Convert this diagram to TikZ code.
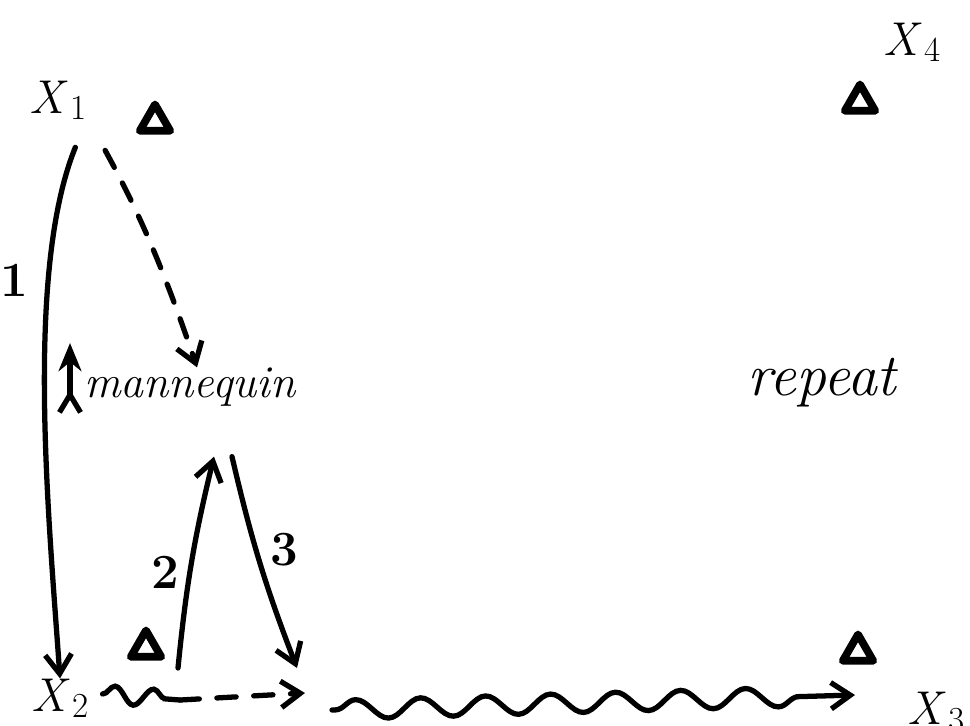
\documentclass[tikz,border=0pt]{standalone}
\usepackage{amssymb, amsmath}
\usetikzlibrary{arrows.meta, calc, shapes.geometric, decorations.pathmorphing}

\newcommand{\xsub}[1]{\textit{X}\kern1pt\raisebox{-0.3ex}{\fontsize{20}{22}\selectfont #1}}

\tikzset{
  hand/.style={line width=3pt, line cap=round},
  tip/.style={-{Straight Barb[length=11pt, width=15pt]}},
  dashy/.style={dash pattern=on 11pt off 10pt},
  lab/.style={inner sep=0pt, font=\fontsize{27}{30}\selectfont},
  word/.style={inner sep=0pt, font=\fontsize{26}{30}\selectfont\itshape},
  big/.style={font=\fontsize{34}{38}\selectfont\itshape},
  num/.style={inner sep=0pt, font=\fontsize{28}{30}\selectfont\bfseries},
  delta/.style={regular polygon, regular polygon sides=3, draw, line width=4.4pt,
    line join=round, inner sep=0pt, minimum size=20pt},
  wave/.style={decorate, decoration={snake, amplitude=5.5pt, segment length=37pt,
    pre length=2pt, post length=14pt}},
  kink/.style={decorate, decoration={snake, amplitude=5pt, segment length=22pt,
    post length=2pt}}
}

\begin{document}
\begin{tikzpicture}
\begin{scope}[x=0.02cm, y=-0.02cm]
\useasboundingbox (0,0) rectangle (970,725);

% labels and triangles
\node[lab] (x1) at (58,100) {\xsub{1}};
\node[delta] (t1) at (155,122) {};
\node[lab] (x4) at (912,42) {\xsub{4}};
\node[delta] (t4) at (860,102) {};
\node[lab] (x2) at (60,698) {\xsub{2}};
\node[delta] (t2) at (146,648) {};
\node[delta] (t3) at (858,652) {};
\node[lab] (x3) at (936,712) {\xsub{3}};
\node[word] (man) at (190,387) {mannequin};
\node[word, big] (rep) at (822,383) {repeat};
\node[num] (one) at (14,280) {1};
\node[num] (two) at (165,572) {2};
\node[num] (three) at (284,550) {3};

% free ends
\coordinate (top2) at ($(man.south)+(24,50)$);
\coordinate (top3) at ($(man.south)+(42,50)$);
\coordinate (bot2) at (178,668);
\coordinate (bot3) at (297,668);
\coordinate (kbeg) at ($(x2.east)+(14,-4)$);
\coordinate (kend) at (180,700);
\coordinate (dend) at (305,693);
\coordinate (wbeg) at (332,710);
\coordinate (wend) at (855,695);
\coordinate (ftail) at (70,415);
\coordinate (fhead) at (70,343);

% connectors
\draw[hand, tip, shorten <=17pt] (x1.south east) to[out=248, in=94, looseness=0.75] (x2.north);
\draw[hand, tip, dashy, shorten <=22pt] (x1.-30) to[bend left=5] ([xshift=4pt]man.north);
\draw[hand, {Straight Barb[reversed, length=10pt, width=12pt]}-{Stealth[length=16pt, width=13pt]}] (ftail) -- (fhead);
\draw[hand, tip] (bot2) to[bend left=4] (top2);
\draw[hand, tip] (top3) to[bend right=4] (bot3);
\draw[hand, kink] (kbeg) -- (kend);
\draw[hand, tip, dashy] (kend) -- (dend);
\draw[hand, tip, wave] (wbeg) -- (wend);
\end{scope}
\end{tikzpicture}
\end{document}
